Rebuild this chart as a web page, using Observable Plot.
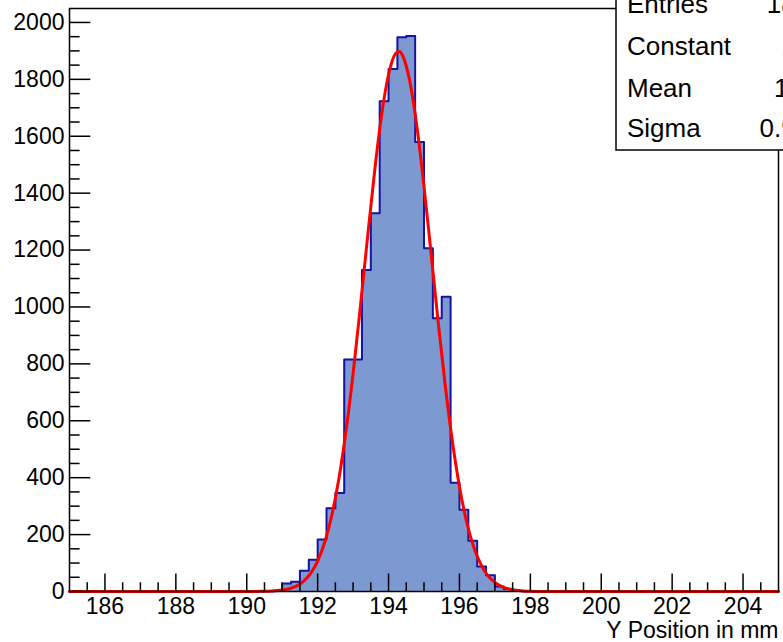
<!DOCTYPE html>
<html>
<head>
<meta charset="utf-8">
<script src="https://cdn.jsdelivr.net/npm/d3@7"></script>
<script src="https://cdn.jsdelivr.net/npm/@observablehq/plot@0.6"></script>
<style>
  html, body { margin: 0; padding: 0; background: #fff; }
  #wrap { position: relative; width: 783px; height: 642px; overflow: hidden; font-family: "Liberation Sans", Arial, Helvetica, sans-serif; }
  #wrap > svg { position: absolute; left: 0; top: 0; }
  #stats { pointer-events: none; }
</style>
</head>
<body>
<div id="wrap"></div>
<script>
// ---- Histogram data (bin lower edges in mm, bin width 0.25 mm) ----
const binWidth = 0.25;
const binStarts = [190.5, 190.75, 191, 191.25, 191.5, 191.75, 192, 192.25, 192.5, 192.75,
                   193, 193.25, 193.5, 193.75, 194, 194.25, 194.5, 194.75, 195, 195.25,
                   195.5, 195.75, 196, 196.25, 196.5, 196.75, 197, 197.25, 197.5, 197.75];
const counts    = [1, 3, 28, 34, 73, 112, 183, 293, 346, 815,
                   815, 1130, 1329, 1723, 1836, 1948, 1952, 1580, 1206, 960,
                   1036, 382, 287, 178, 88, 57, 18, 9, 3, 1];

// ---- Gaussian fit curve ----
const fitX = [185, 190.0, 190.4, 190.6, 190.8, 191.0, 191.2, 191.4, 191.6, 191.8, 192.0,
              192.2, 192.4, 192.6, 192.8, 193.0, 193.2, 193.4, 193.6, 193.8, 194.0,
              194.2, 194.3, 194.4, 194.6, 194.8, 195.0, 195.2, 195.4, 195.6, 195.8,
              196.0, 196.2, 196.4, 196.6, 196.8, 197.0, 197.2, 197.4, 197.6, 197.8,
              198.0, 198.2, 205];
const fitY = [0, 0.1, 0.5, 1.0, 2.3, 4.9, 9.9, 19, 36, 63, 107,
              173, 268, 397, 564, 766, 995, 1236, 1469, 1671, 1817,
              1891, 1898, 1883, 1793, 1634, 1424, 1188, 947, 723, 528,
              369, 246, 157, 96, 56, 32, 17, 8.6, 4.2, 2.0,
              0.9, 0.4, 0];

// ---- Axes ----
const xDomain = [185, 205];
const yDomain = [0, 2049];
const xMajor = [186, 188, 190, 192, 194, 196, 198, 200, 202, 204];
const yMajor = [0, 200, 400, 600, 800, 1000, 1200, 1400, 1600, 1800, 2000];
const xLabel = "Y Position in mm";

// ---- Stats box ----
const statNames = ["Entries", "Constant", "Mean", "Sigma"];
const statValues = ["18421", "1898", "194.3", "0.9478"];

// build tables
const outline = [{x: xDomain[0], y: 0}]
  .concat(binStarts.map((b, i) => ({x: b, y: counts[i]})))
  .concat([{x: binStarts[binStarts.length - 1] + binWidth, y: 0}, {x: xDomain[1], y: 0}]);
const fit = fitX.map((x, i) => ({x, y: fitY[i]}));
const xMinor = d3.range(185.5, 205, 0.5).filter(v => !xMajor.includes(v));
const yMinor = d3.range(50, 2049, 50).filter(v => !yMajor.includes(v));

const W = 783, H = 642;
const mL = 69, mR = 5, mT = 8, mB = 51;
const plotH = H - mT - mB, plotW = W - mL - mR;
const font = "Liberation Sans, Arial, Helvetica, sans-serif";

const chart = Plot.plot({
  width: W, height: H,
  marginLeft: mL, marginRight: mR, marginTop: mT, marginBottom: mB,
  style: {fontFamily: font, background: "white", overflow: "visible"},
  x: {domain: xDomain, axis: null},
  y: {domain: yDomain, axis: null},
  marks: [
    Plot.areaY(outline, {x: "x", y: "y", curve: "step-after", fill: "#7d99d1"}),
    Plot.lineY(outline, {x: "x", y: "y", curve: "step-after", stroke: "#1414a0", strokeWidth: 2}),
    Plot.line(fit, {x: "x", y: "y", curve: "monotone-x", stroke: "#ff0000", strokeWidth: 3}),
    // ticks (inside frame, ROOT style)
    Plot.ruleX(xMajor, {x: d => d, insetTop: plotH - 17.5, stroke: "black", strokeWidth: 1.5}),
    Plot.ruleX(xMinor, {x: d => d, insetTop: plotH - 8.75, stroke: "black", strokeWidth: 1.5}),
    Plot.ruleY(yMajor, {y: d => d, insetRight: plotW - 21.3, stroke: "black", strokeWidth: 1.5}),
    Plot.ruleY(yMinor, {y: d => d, insetRight: plotW - 10.6, stroke: "black", strokeWidth: 1.5}),
    Plot.frame({stroke: "black", strokeWidth: 1.5}),
    // tick labels
    Plot.text(xMajor, {x: d => d, frameAnchor: "bottom", lineAnchor: "top", dy: 6, text: d => String(d), fontSize: 23, fill: "black"}),
    Plot.text(yMajor, {y: d => d, frameAnchor: "left", textAnchor: "end", dx: -5, text: d => String(d), fontSize: 23, fill: "black"}),
    Plot.text([xLabel], {frameAnchor: "bottom-right", textAnchor: "end", lineAnchor: "bottom", dy: 46, text: d => d, fontSize: 23, fill: "black"})
  ]
});

const wrap = document.getElementById("wrap");
wrap.appendChild(chart);

// stats box overlay
const ns = "http://www.w3.org/2000/svg";
const ov = document.createElementNS(ns, "svg");
ov.setAttribute("id", "stats");
ov.setAttribute("width", W);
ov.setAttribute("height", H);
const rect = document.createElementNS(ns, "rect");
rect.setAttribute("x", 616); rect.setAttribute("y", -20);
rect.setAttribute("width", 240); rect.setAttribute("height", 170);
rect.setAttribute("fill", "white"); rect.setAttribute("stroke", "black"); rect.setAttribute("stroke-width", 1.5);
ov.appendChild(rect);
const baselines = [13, 55, 97, 137];
statNames.forEach((n, i) => {
  const t = document.createElementNS(ns, "text");
  t.setAttribute("x", 627); t.setAttribute("y", baselines[i]);
  t.setAttribute("font-family", font); t.setAttribute("font-size", 26);
  t.textContent = n;
  ov.appendChild(t);
  const v = document.createElementNS(ns, "text");
  v.setAttribute("x", 839); v.setAttribute("y", baselines[i]);
  v.setAttribute("text-anchor", "end");
  v.setAttribute("font-family", font); v.setAttribute("font-size", 26);
  v.textContent = statValues[i];
  ov.appendChild(v);
});
wrap.appendChild(ov);
</script>
</body>
</html>
